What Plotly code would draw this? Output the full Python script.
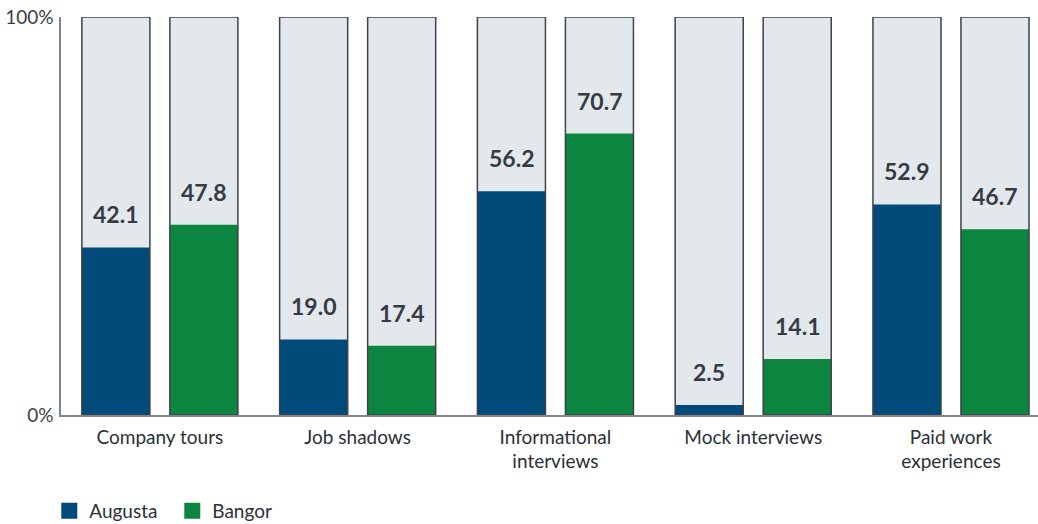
import plotly.graph_objects as go

categories = ["Company tours", "Job shadows", "Informational<br>interviews", "Mock interviews", "Paid work<br>experiences"]
augusta = [42.1, 19.0, 56.2, 2.5, 52.9]
bangor = [47.8, 17.4, 70.7, 14.1, 46.7]
series_names = ["Augusta", "Bangor"]
y_tick_vals = [0, 100]
y_tick_text = ["0%", "100%"]

colors = ["#004b7a", "#0c8540"]
bg_color = "#e3e8ec"
outline = "#3d4248"
text_color = "#2b3038"
font_family = "Lato, 'Open Sans', sans-serif"

offset = 0.2225
bw = 0.344
idx = list(range(len(categories)))

fig = go.Figure()
for s, (name, vals) in enumerate(zip(series_names, [augusta, bangor])):
    xs = [i + (-offset if s == 0 else offset) for i in idx]
    fig.add_trace(go.Bar(x=xs, y=[100] * len(xs), width=bw, marker=dict(color=bg_color, line=dict(width=0)),
                         showlegend=False, hoverinfo="skip"))
for s, (name, vals) in enumerate(zip(series_names, [augusta, bangor])):
    xs = [i + (-offset if s == 0 else offset) for i in idx]
    fig.add_trace(go.Bar(x=xs, y=vals, width=bw, name=name, showlegend=False,
                         marker=dict(color=colors[s], line=dict(width=0))))
for s, (name, vals) in enumerate(zip(series_names, [augusta, bangor])):
    xs = [i + (-offset if s == 0 else offset) for i in idx]
    fig.add_trace(go.Bar(x=xs, y=[100] * len(xs), width=bw,
                         marker=dict(color="rgba(0,0,0,0)", line=dict(width=1.5, color=outline)),
                         showlegend=False, hoverinfo="skip"))
    for x, v in zip(xs, vals):
        fig.add_annotation(x=x, y=v, text=f"{v:.1f}", showarrow=False, yanchor="middle", yshift=33,
                           font=dict(family=font_family, size=23, color="#363b43", weight="bold"))
# legend entries
for s, name in enumerate(series_names):
    fig.add_trace(go.Scatter(x=[None], y=[None], mode="markers", name=name,
                             marker=dict(symbol="square", size=16, color=colors[s])))

fig.update_layout(
    barmode="overlay",
    width=1038, height=524,
    margin=dict(l=61, r=0, t=17, b=109, autoexpand=False),
    plot_bgcolor="white", paper_bgcolor="white",
    font=dict(family=font_family, color=text_color),
    showlegend=True,
    legend=dict(orientation="h", x=-0.012, xanchor="left", y=-115 / 398, yanchor="bottom",
                font=dict(size=19, color=text_color), traceorder="normal",
                itemsizing="trace", entrywidth=78, entrywidthmode="pixels", tracegroupgap=0),
    xaxis=dict(range=[-0.5, 4.44], tickvals=idx, ticktext=categories, showgrid=False, zeroline=False,
               showline=True, linecolor="#80858b", linewidth=1.5, ticks="", ticklabelstandoff=4,
               tickfont=dict(size=19, color=text_color)),
    yaxis=dict(range=[0, 100], tickvals=y_tick_vals, ticktext=y_tick_text, showgrid=False, zeroline=False,
               showline=True, linecolor="#80858b", linewidth=1.5, ticks="", ticklabelstandoff=2,
               tickfont=dict(size=19, color="#3a3f45")),
)

fig.write_html("out.html")
